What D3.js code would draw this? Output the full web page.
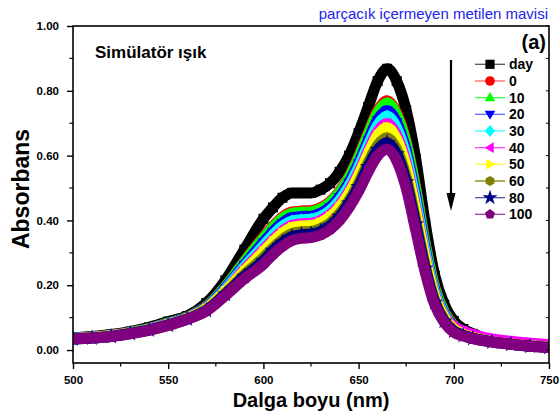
<!DOCTYPE html>
<html><head><meta charset="utf-8">
<script src="https://cdn.jsdelivr.net/npm/d3@7"></script>
<style>
html,body{margin:0;padding:0;background:#fff;}
svg{display:block;font-family:Arial,"Liberation Sans",sans-serif;}
</style></head>
<body><svg id="chart" width="559" height="416"></svg>
<script>
// ---------- data ----------
const wavelengths = [500,510,520,530,540,550,560,570,580,590,600,605,610,615,620,625,630,635,640,645,650,655,660,665,670,675,680,685,690,695,700,705,710,720,730,740,750];
const seriesLabels = ["day","0","10","20","30","40","50","60","80","100"];
const sDay = [0.038,0.042,0.048,0.057,0.070,0.088,0.105,0.145,0.215,0.310,0.405,0.440,0.470,0.485,0.485,0.485,0.495,0.515,0.550,0.600,0.670,0.750,0.830,0.868,0.830,0.740,0.590,0.390,0.230,0.140,0.090,0.065,0.050,0.030,0.022,0.016,0.012];
const s0   = [0.036,0.040,0.046,0.054,0.066,0.083,0.101,0.135,0.196,0.274,0.349,0.382,0.410,0.426,0.429,0.430,0.439,0.458,0.490,0.536,0.598,0.670,0.738,0.769,0.732,0.644,0.502,0.330,0.194,0.118,0.076,0.056,0.044,0.028,0.020,0.014,0.010];
const s10  = [0.036,0.040,0.045,0.054,0.066,0.083,0.101,0.134,0.195,0.272,0.345,0.378,0.406,0.422,0.425,0.426,0.435,0.454,0.486,0.532,0.593,0.665,0.732,0.762,0.725,0.638,0.496,0.326,0.192,0.117,0.075,0.056,0.044,0.028,0.020,0.014,0.010];
const s20  = [0.036,0.039,0.045,0.053,0.065,0.082,0.100,0.132,0.191,0.263,0.332,0.365,0.392,0.409,0.412,0.413,0.422,0.441,0.472,0.517,0.576,0.646,0.710,0.739,0.703,0.615,0.476,0.312,0.183,0.111,0.072,0.054,0.042,0.027,0.020,0.014,0.010];
const s30  = [0.036,0.039,0.045,0.053,0.065,0.081,0.099,0.130,0.187,0.257,0.322,0.355,0.382,0.398,0.402,0.404,0.412,0.431,0.462,0.506,0.564,0.632,0.694,0.722,0.686,0.598,0.460,0.302,0.177,0.108,0.069,0.052,0.041,0.027,0.020,0.014,0.010];
const s40  = [0.035,0.039,0.044,0.052,0.064,0.080,0.098,0.128,0.183,0.249,0.310,0.341,0.368,0.385,0.390,0.391,0.400,0.418,0.448,0.491,0.548,0.614,0.674,0.699,0.663,0.577,0.440,0.288,0.169,0.103,0.072,0.058,0.048,0.034,0.027,0.021,0.017];
const s50  = [0.035,0.038,0.044,0.052,0.063,0.079,0.098,0.127,0.181,0.244,0.303,0.334,0.361,0.378,0.383,0.384,0.393,0.411,0.441,0.483,0.539,0.604,0.662,0.687,0.651,0.565,0.429,0.281,0.164,0.100,0.065,0.049,0.039,0.026,0.019,0.013,0.009];
const s60  = [0.035,0.038,0.043,0.051,0.062,0.078,0.096,0.124,0.175,0.233,0.285,0.315,0.341,0.359,0.365,0.366,0.375,0.392,0.421,0.462,0.515,0.578,0.632,0.655,0.619,0.534,0.401,0.261,0.153,0.093,0.060,0.046,0.037,0.026,0.019,0.013,0.009];
const s80  = [0.034,0.037,0.042,0.051,0.062,0.077,0.096,0.122,0.172,0.227,0.276,0.307,0.332,0.350,0.356,0.358,0.366,0.383,0.412,0.453,0.504,0.566,0.618,0.640,0.605,0.519,0.388,0.252,0.147,0.089,0.058,0.045,0.036,0.025,0.018,0.012,0.008];
const s100 = [0.034,0.037,0.042,0.050,0.061,0.076,0.095,0.120,0.168,0.220,0.265,0.295,0.320,0.338,0.345,0.347,0.355,0.372,0.400,0.440,0.490,0.550,0.600,0.620,0.585,0.500,0.370,0.240,0.140,0.085,0.055,0.043,0.035,0.025,0.018,0.012,0.008];
const seriesValues = [sDay,s0,s10,s20,s30,s40,s50,s60,s80,s100];
const xMajorTicks = [500,550,600,650,700,750];
const xMinorTicks = [525,575,625,675,725];
const yMajorTicks = [0,0.2,0.4,0.6,0.8,1.0];
const yMinorTicks = [0.1,0.3,0.5,0.7,0.9];

// ---------- styles ----------
const colors = ["#000000","#ff0000","#00ff00","#0000ff","#00ffff","#ff00ff","#ffff00","#808000","#000080","#800080"];
const lineColors = ["#555555","#ff6666","#33ff33","#6666ff","#33ffff","#ff44ff","#ffff33","#808000","#5555aa","#a040a0"];
const shapes = ["square","circle","triUp","triDown","diamond","triLeft","triRight","hexagon","star","pentagon"];

const svg = d3.select("#chart");
const M = {left:73, right:549, top:26, bottom:363};
const x = d3.scaleLinear().domain([500,750]).range([M.left, M.right]);
const y = d3.scaleLinear().domain([-0.04,1.0]).range([M.bottom, M.top]);

function poly(pts){ return "M" + pts.map(p=>p[0].toFixed(2)+","+p[1].toFixed(2)).join("L") + "Z"; }
function shapePath(t, r){
  switch(t){
    case "square": return poly([[-r,-r],[r,-r],[r,r],[-r,r]]);
    case "circle": return d3.symbol(d3.symbolCircle, Math.PI*r*r*1.1)();
    case "triUp": return poly([[0,-r*1.2],[r*1.15,r*0.8],[-r*1.15,r*0.8]]);
    case "triDown": return poly([[0,r*1.2],[r*1.15,-r*0.8],[-r*1.15,-r*0.8]]);
    case "diamond": return poly([[0,-r*1.3],[r*1.1,0],[0,r*1.3],[-r*1.1,0]]);
    case "triLeft": return poly([[-r*1.2,0],[r*0.8,-r*1.15],[r*0.8,r*1.15]]);
    case "triRight": return poly([[r*1.2,0],[-r*0.8,-r*1.15],[-r*0.8,r*1.15]]);
    case "hexagon": return poly(d3.range(6).map(i=>{const a=Math.PI/6+i*Math.PI/3;return [r*1.1*Math.cos(a), r*1.1*Math.sin(a)];}));
    case "star": return d3.symbol(d3.symbolStar, r*r*3.4)();
    case "pentagon": return poly(d3.range(5).map(i=>{const a=-Math.PI/2+i*2*Math.PI/5;return [r*1.15*Math.cos(a), r*1.15*Math.sin(a)];}));
  }
}

// clip
svg.append("defs").append("clipPath").attr("id","plotclip")
  .append("rect").attr("x",M.left).attr("y",M.top).attr("width",M.right-M.left).attr("height",M.bottom-M.top);

const plot = svg.append("g").attr("clip-path","url(#plotclip)");
const line = d3.line().x((d,i)=>x(wavelengths[i])).y(d=>y(d)).curve(d3.curveMonotoneX);

seriesValues.forEach((vals,si)=>{
  const g = plot.append("g");
  g.append("path").attr("d", line(vals)).attr("fill","none")
    .attr("stroke", colors[si]).attr("stroke-width", 11).attr("stroke-linejoin","round").attr("stroke-linecap","round");
  g.selectAll("path.m").data(vals).enter().append("path").attr("class","m")
    .attr("transform",(d,i)=>`translate(${x(wavelengths[i])},${y(d)})`)
    .attr("d", shapePath(shapes[si], 5)).attr("fill", colors[si]);
});

// frame
svg.append("rect").attr("x",M.left).attr("y",M.top).attr("width",M.right-M.left).attr("height",M.bottom-M.top)
  .attr("fill","none").attr("stroke","#000").attr("stroke-width",1.6);

// axes
const fontTick = "bold 11.5px Arial, 'Liberation Sans', sans-serif";
const xAxis = svg.append("g").attr("transform",`translate(0,${M.bottom})`)
  .call(d3.axisBottom(x).tickValues(xMajorTicks).tickFormat(d3.format("d")).tickSize(6).tickSizeOuter(0).tickPadding(7));
xAxis.select(".domain").remove();
xAxis.selectAll("line").attr("stroke-width",1.4);
xAxis.selectAll("text").style("font",fontTick).attr("fill","#000");
svg.append("g").selectAll("line").data(xMinorTicks).enter().append("line")
  .attr("x1",d=>x(d)).attr("x2",d=>x(d)).attr("y1",M.bottom).attr("y2",M.bottom+3.5).attr("stroke","#000").attr("stroke-width",1.2);

const yAxis = svg.append("g").attr("transform",`translate(${M.left},0)`)
  .call(d3.axisLeft(y).tickValues(yMajorTicks).tickFormat(d3.format(".2f")).tickSize(6).tickSizeOuter(0).tickPadding(8));
yAxis.select(".domain").remove();
yAxis.selectAll("line").attr("stroke-width",1.4);
yAxis.selectAll("text").style("font",fontTick).attr("fill","#000");
svg.append("g").selectAll("line").data(yMinorTicks).enter().append("line")
  .attr("x1",M.left-3.5).attr("x2",M.left).attr("y1",d=>y(d)).attr("y2",d=>y(d)).attr("stroke","#000").attr("stroke-width",1.2);
// right inward ticks
svg.append("g").selectAll("line").data(yMajorTicks.concat(yMinorTicks)).enter().append("line")
  .attr("x1",M.right-3).attr("x2",M.right).attr("y1",d=>y(d)).attr("y2",d=>y(d)).attr("stroke","#000").attr("stroke-width",1);

// axis titles
svg.append("text").attr("x",311).attr("y",407).attr("text-anchor","middle")
  .style("font","bold 20px Arial, 'Liberation Sans', sans-serif").text("Dalga boyu (nm)");
svg.append("text").attr("transform","translate(29,189) rotate(-90)").attr("text-anchor","middle")
  .style("font","bold 23px Arial, 'Liberation Sans', sans-serif").text("Absorbans");

// title and annotations
svg.append("text").attr("x",548).attr("y",19).attr("text-anchor","end").attr("fill","#2222ee")
  .style("font","15px Arial, 'Liberation Sans', sans-serif").text("parçacık içermeyen metilen mavisi");
svg.append("text").attr("x",95).attr("y",58)
  .style("font","bold 17px Arial, 'Liberation Sans', sans-serif").text("Simülatör ışık");
svg.append("text").attr("x",546).attr("y",49).attr("text-anchor","end")
  .style("font","bold 20px Arial, 'Liberation Sans', sans-serif").text("(a)");

// arrow
svg.append("line").attr("x1",451).attr("x2",451).attr("y1",60).attr("y2",197).attr("stroke","#000").attr("stroke-width",2.2);
svg.append("path").attr("d",poly([[446.5,193],[455.5,193],[451,211]])).attr("fill","#000");

// legend
const leg = svg.append("g");
seriesLabels.forEach((lab,i)=>{
  const cy = 64.3 + i*16.67;
  leg.append("line").attr("x1",475).attr("x2",505).attr("y1",cy).attr("y2",cy).attr("stroke",lineColors[i]).attr("stroke-width",1.3);
  leg.append("path").attr("transform",`translate(490,${cy})`).attr("d",shapePath(shapes[i],4.6)).attr("fill",colors[i]);
  leg.append("text").attr("x",509).attr("y",cy+5).style("font","bold 14px Arial, 'Liberation Sans', sans-serif").text(lab);
});
</script></body></html>
